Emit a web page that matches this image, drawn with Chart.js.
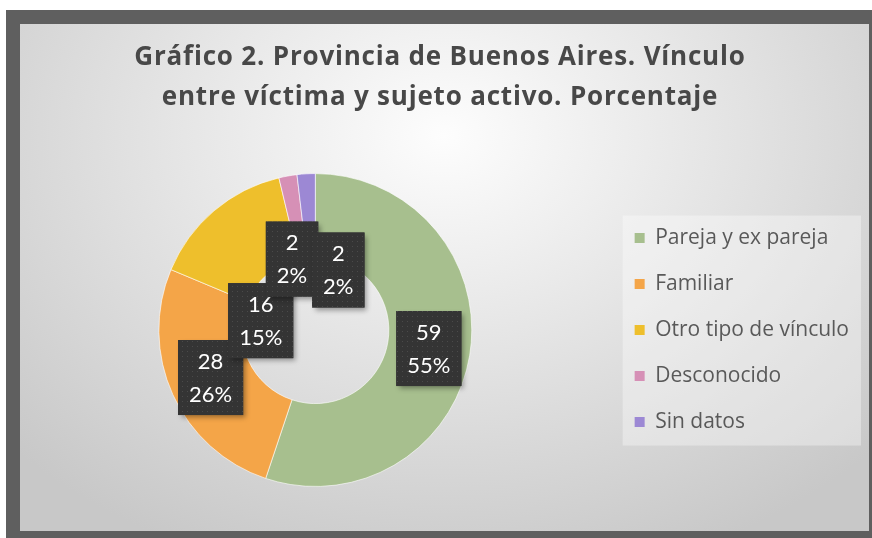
<!DOCTYPE html>
<html><head><meta charset="utf-8">
<script src="https://cdn.jsdelivr.net/npm/chart.js@4.4.1/dist/chart.umd.min.js"></script>
<style>
html,body{margin:0;padding:0;background:#fff;width:872px;height:538px;overflow:hidden}
#frame{position:absolute;left:6px;top:10px;width:866px;height:528px;background:#5f5f5f}
#inner{position:absolute;left:14px;top:14px;width:849px;height:507px;
background:radial-gradient(ellipse 70% 90% at 50% 22%, #fdfdfd 0%, #e8e8e8 40%, #c8c8c8 100%);}
canvas{display:block}
</style></head><body>
<div id="frame"><div id="inner"><canvas id="c" width="849" height="507"></canvas></div></div>
<script>
// ---- data ----
const categories = ['Pareja y ex pareja', 'Familiar', 'Otro tipo de vínculo', 'Desconocido', 'Sin datos'];
const values = [59, 28, 16, 2, 2];
const titleLines = ['Gráfico 2. Provincia de Buenos Aires. Vínculo', 'entre víctima y sujeto activo. Porcentaje'];

// ---- styles ----
const sliceColors = ['#a7bf8e', '#f4a548', '#eebf2c', '#d690b6', '#9c88d4'];
// label box shift from slice centre, in units of outer radius
const labelOffsets = [[0, 0], [0, 0], [0.127, 0.50], [-0.02, 0.27], [0.19, 0.35]];

function makePattern(ctx) {
  const pc = document.createElement('canvas');
  pc.width = 5; pc.height = 5;
  const p = pc.getContext('2d');
  p.fillStyle = '#343434'; p.fillRect(0, 0, 5, 5);
  p.fillStyle = '#4a4a4a'; p.fillRect(2, 2, 1, 1);
  return ctx.createPattern(pc, 'repeat');
}

// widen the title glyph spacing (Calibri-like width)
const titleSpacing = {
  id: 'titleSpacing',
  afterInit(chart) {
    const tb = chart.titleBlock;
    if (!tb || tb._wrapped) return;
    const orig = tb.draw.bind(tb);
    tb.draw = function () {
      const ctx = chart.ctx;
      ctx.save();
      if ('letterSpacing' in ctx) ctx.letterSpacing = '0.8px';
      orig();
      ctx.restore();
    };
    tb._wrapped = true;
  }
};

const legendBg = {
  id: 'legendBg',
  beforeDraw(chart) {
    const hb = chart.legend && chart.legend.legendHitBoxes;
    if (!hb || !hb.length) return;
    let l = Infinity, t = Infinity, r = -Infinity, b = -Infinity;
    hb.forEach(h => { l = Math.min(l, h.left); t = Math.min(t, h.top); r = Math.max(r, h.left + h.width); b = Math.max(b, h.top + h.height); });
    const ctx = chart.ctx;
    ctx.save();
    ctx.fillStyle = 'rgba(255,255,255,0.35)';
    ctx.fillRect(l - 12, t - 12, r - l + 24, b - t + 25);
    ctx.restore();
  }
};

const boxLabels = {
  id: 'boxLabels',
  afterDatasetsDraw(chart) {
    const ctx = chart.ctx;
    const meta = chart.getDatasetMeta(0);
    const data = chart.data.datasets[0].data;
    const total = data.reduce((a, b) => a + b, 0);
    const pattern = makePattern(ctx);
    ctx.save();
    ctx.font = '22px Lato';
    ctx.textAlign = 'center';
    ctx.textBaseline = 'middle';
    meta.data.forEach((arc, i) => {
      const p = arc.tooltipPosition();
      const R = arc.outerRadius;
      const cx = p.x + labelOffsets[i][0] * R;
      const cy = p.y + labelOffsets[i][1] * R;
      const l1 = String(data[i]);
      const l2 = Math.round(data[i] / total * 100) + '%';
      const w = Math.max(ctx.measureText(l1).width, ctx.measureText(l2).width) + 22;
      const h = 75;
      ctx.save();
      ctx.shadowColor = 'rgba(0,0,0,0.35)';
      ctx.shadowBlur = 5; ctx.shadowOffsetX = 3; ctx.shadowOffsetY = 3;
      ctx.fillStyle = '#343434';
      ctx.fillRect(cx - w / 2, cy - h / 2, w, h);
      ctx.restore();
      ctx.fillStyle = pattern;
      ctx.fillRect(cx - w / 2, cy - h / 2, w, h);
      ctx.fillStyle = '#ffffff';
      ctx.fillText(l1, cx, cy - 16);
      ctx.fillText(l2, cx, cy + 17);
    });
    ctx.restore();
  }
};

new Chart(document.getElementById('c'), {
  type: 'doughnut',
  data: {
    labels: categories,
    datasets: [{
      data: values,
      backgroundColor: sliceColors,
      borderColor: 'rgba(255,255,255,0.6)',
      borderWidth: 1,
      hoverOffset: 0
    }]
  },
  options: {
    responsive: false,
    animation: false,
    cutout: '47%',
    layout: { padding: { left: 1, right: 10, top: 0, bottom: 44 } },
    plugins: {
      tooltip: { enabled: false },
      title: {
        display: true,
        text: titleLines,
        color: '#484848',
        font: { family: 'Open Sans', weight: 'bold', size: 26, lineHeight: 1.54 },
        padding: { top: 14, bottom: 55 }
      },
      legend: {
        position: 'right',
        fullSize: false,
        labels: {
          color: '#595959',
          font: { family: 'Open Sans', size: 21 },
          boxWidth: 10,
          boxHeight: 10,
          padding: 25,
          generateLabels(chart) {
            const items = Chart.controllers.doughnut.overrides.plugins.legend.labels.generateLabels(chart);
            return items.map(it => Object.assign(it, { lineWidth: 0, strokeStyle: 'rgba(0,0,0,0)' }));
          }
        }
      }
    }
  },
  plugins: [titleSpacing, legendBg, boxLabels]
});
</script>
</body></html>
